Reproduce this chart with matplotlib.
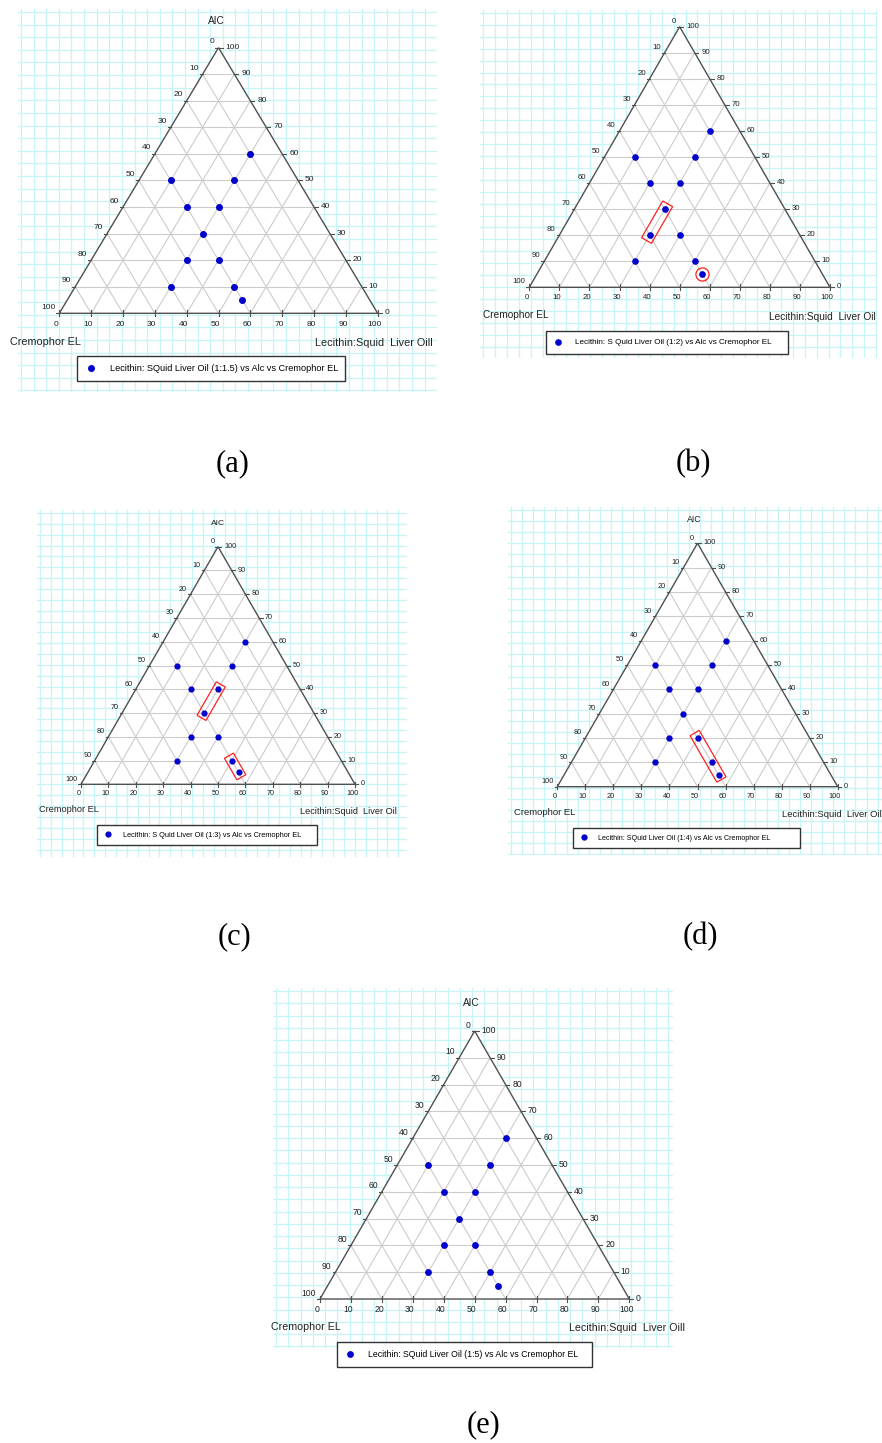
import numpy as np
import matplotlib
matplotlib.use("Agg")
import matplotlib.pyplot as plt
from matplotlib.patches import Polygon

W, H = 882, 1443

# compositions (%): Lecithin:Squid Liver Oil and Alc; Cremophor EL is the rest
lec = [30, 10, 30, 20, 30, 30, 30, 40, 30, 50, 55]
alc = [60, 50, 50, 40, 40, 30, 20, 20, 10, 10, 5]

tick_vals = list(range(0, 101, 10))

legend_texts = [
    "Lecithin: SQuid Liver Oil (1:1.5) vs Alc vs Cremophor EL",
    "Lecithin: S Quid Liver Oil (1:2) vs Alc vs Cremophor EL",
    "Lecithin: S Quid Liver Oil (1:3) vs Alc vs Cremophor EL",
    "Lecithin: SQuid Liver Oil (1:4) vs Alc vs Cremophor EL",
    "Lecithin: SQuid Liver Oil (1:5) vs Alc vs Cremophor EL",
]
right_titles = ["Lecithin:Squid  Liver Oill", "Lecithin:Squid  Liver Oil",
                "Lecithin:Squid  Liver Oil", "Lecithin:Squid  Liver Oil",
                "Lecithin:Squid  Liver Oill"]
left_title = "Cremophor EL"
top_title = "AIC"
panel_tags = ["(a)", "(b)", "(c)", "(d)", "(e)"]

# highlighted groups (lec, alc) per panel
boxes = [
    [],
    [[(30, 30), (30, 20)]],
    [[(30, 40), (30, 30)], [(50, 10), (55, 5)]],
    [[(40, 20), (50, 10), (55, 5)]],
    [],
]
circles = [[], [(55, 5)], [], [], []]

# layout in pixels: background box, triangle (left x, right x, base y, apex y),
# legend box, title positions, font sizes
panels = [
    dict(bg=(18, 9, 437, 392), tri=(59.3, 377.7, 313.3, 47.7), leg=(77, 357, 345, 380),
         top=(216, 20.5), left=(10, 341.7), right=(433, 343), tag=(233, 464),
         fs_tick=6.0, fs_title=7.8, fs_leg=6.6),
    dict(bg=(480, 10, 877, 358), tri=(529.3, 830, 287.3, 26.7), leg=(545.7, 331.7, 788.3, 353.3),
         top=None, left=(482.7, 315), right=(876, 316.7), tag=(693, 464),
         fs_tick=5.6, fs_title=7.3, fs_leg=5.85),
    dict(bg=(37, 510, 407, 857), tri=(81, 355, 784.3, 546.7), leg=(96.7, 825, 316.7, 845),
         top=(218, 524), left=(39, 810), right=(397, 811.7), tag=(235, 937),
         fs_tick=5.2, fs_title=6.6, fs_leg=5.3),
    dict(bg=(508, 507, 882, 855), tri=(557.3, 837.7, 786.7, 543.3), leg=(572.7, 828.3, 800, 848.3),
         top=(694, 520), left=(514.3, 812.7), right=(881.7, 814.3), tag=(700, 937),
         fs_tick=5.3, fs_title=6.8, fs_leg=5.15),
    dict(bg=(273, 988, 673, 1348), tri=(320, 629.3, 1299, 1031), leg=(336.7, 1343.3, 591.7, 1365),
         top=(471.7, 1002.7), left=(271, 1326.7), right=(685, 1328.3), tag=(483, 1425),
         fs_tick=6.2, fs_title=7.7, fs_leg=6.35),
]

plt.rcParams['font.family'] = ['Liberation Sans', 'DejaVu Sans']
fig = plt.figure(figsize=(W / 100, H / 100), dpi=100)
fig.patch.set_facecolor('white')


def fx(x):
    return x / W


def fy(y):
    return 1 - y / H


def to_xy(l, a):
    l = np.asarray(l, float)
    a = np.asarray(a, float)
    return l + a / 2.0, a


def box_around(pts, sx, sy, pad, hw):
    x, y = to_xy([p[0] for p in pts], [p[1] for p in pts])
    P = np.column_stack([x * sx, y * sy])
    p0, p1 = P[0], P[-1]
    u = (p1 - p0) / np.linalg.norm(p1 - p0)
    n = np.array([-u[1], u[0]])
    c = np.array([p0 - u * pad + n * hw, p1 + u * pad + n * hw,
                  p1 + u * pad - n * hw, p0 - u * pad - n * hw])
    return c / np.array([sx, sy])


for i, p in enumerate(panels):
    bx0, by0, bx1, by1 = p['bg']
    tl, tr, base, apex = p['tri']
    sx = (tr - tl) / 100.0
    sy = (base - apex) / 100.0
    k = sx / 3.18

    ax = fig.add_axes([fx(bx0), fy(by1), (bx1 - bx0) / W, (by1 - by0) / H])
    ax.set_xlim((bx0 - tl) / sx, (bx1 - tl) / sx)
    ax.set_ylim((base - by1) / sy, (base - by0) / sy)
    ax.axis('off')

    # graph paper background
    pitch = 12.6 * k
    for gx in np.arange(bx0 + 3, bx1, pitch):
        ax.axvline((gx - tl) / sx, color='#c6f4f7', lw=0.9, zorder=0)
    for gy in np.arange(by0 + 3, by1, pitch):
        ax.axhline((base - gy) / sy, color='#c6f4f7', lw=0.9, zorder=0)

    ax.add_patch(Polygon([(0, 0), (100, 0), (50, 100)], closed=True,
                         facecolor='white', edgecolor='none', zorder=1))

    # inner grid
    for v in tick_vals[1:-1]:
        ax.plot([v / 2, 100 - v / 2], [v, v], color='#cccccc', lw=0.8, zorder=2)
        ax.plot([v, v + (100 - v) / 2], [0, 100 - v], color='#cccccc', lw=0.8, zorder=2)
        ax.plot([100 - v, (100 - v) / 2], [0, 100 - v], color='#cccccc', lw=0.8, zorder=2)

    ax.add_patch(Polygon([(0, 0), (100, 0), (50, 100)], closed=True,
                         facecolor='none', edgecolor='#505050', lw=1.0, zorder=3))

    tlen = 3.0 * k
    for v in tick_vals:
        # bottom axis
        ax.plot([v, v], [-tlen / sy, tlen / sy], color='#505050', lw=0.8, zorder=3)
        ax.text(v - 3 * k / sx, -11 * k / sy, str(v), ha='center', va='center',
                fontsize=p['fs_tick'], color='#222222')
        # right axis (Alc)
        rx, ry = 100 - v / 2, v
        ax.plot([rx, rx + 4 * k / sx], [ry, ry], color='#505050', lw=0.8, zorder=3)
        ax.text(rx + 7 * k / sx, ry + 0.5 * k / sy, str(v), ha='left', va='center',
                fontsize=p['fs_tick'], color='#222222')
        # left axis (Cremophor EL)
        lx, ly = (100 - v) / 2, 100 - v
        ax.plot([lx - 3 * k / sx, lx], [ly, ly], color='#505050', lw=0.8, zorder=3)
        ax.text(lx - 4 * k / sx, ly + 6 * k / sy, str(v), ha='right', va='center',
                fontsize=p['fs_tick'], color='#222222')

    x, y = to_xy(lec, alc)
    ax.plot(x, y, 'o', ls='none', color='#0000cc', ms=4.0 * k, zorder=5,
            label=legend_texts[i])

    for grp in boxes[i]:
        ax.add_patch(Polygon(box_around(grp, sx, sy, 6.5 * k, 6.0 * k), closed=True,
                             facecolor='none', edgecolor='#ff2020', lw=0.9, zorder=6))
    for c in circles[i]:
        cx, cy = to_xy([c[0]], [c[1]])
        ax.plot(cx, cy, 'o', mfc='none', mec='#ff2020', mew=0.9, ms=10 * k, zorder=6)

    lx0, ly0, lx1, ly1 = p['leg']
    ax.legend(loc='center', bbox_to_anchor=(fx(lx0), fy(ly1), (lx1 - lx0) / W, (ly1 - ly0) / H),
              bbox_transform=fig.transFigure, mode='expand', fancybox=False,
              edgecolor='#333333', framealpha=1, fontsize=p['fs_leg'],
              borderpad=0.9, handlelength=1.3, handletextpad=1.4, borderaxespad=0)

    if p['top'] is not None:
        fig.text(fx(p['top'][0]), fy(p['top'][1]), top_title, ha='center', va='center',
                 fontsize=p['fs_title'] - 0.5, color='#222222')
    fig.text(fx(p['left'][0]), fy(p['left'][1]), left_title, ha='left', va='center',
             fontsize=p['fs_title'], color='#222222')
    fig.text(fx(p['right'][0]), fy(p['right'][1]), right_titles[i], ha='right', va='center',
             fontsize=p['fs_title'], color='#222222')
    fig.text(fx(p['tag'][0]), fy(p['tag'][1]), panel_tags[i], ha='center', va='center',
             fontsize=22, family='Liberation Serif', color='black')

fig.savefig('out.png', dpi=100, facecolor='white')
